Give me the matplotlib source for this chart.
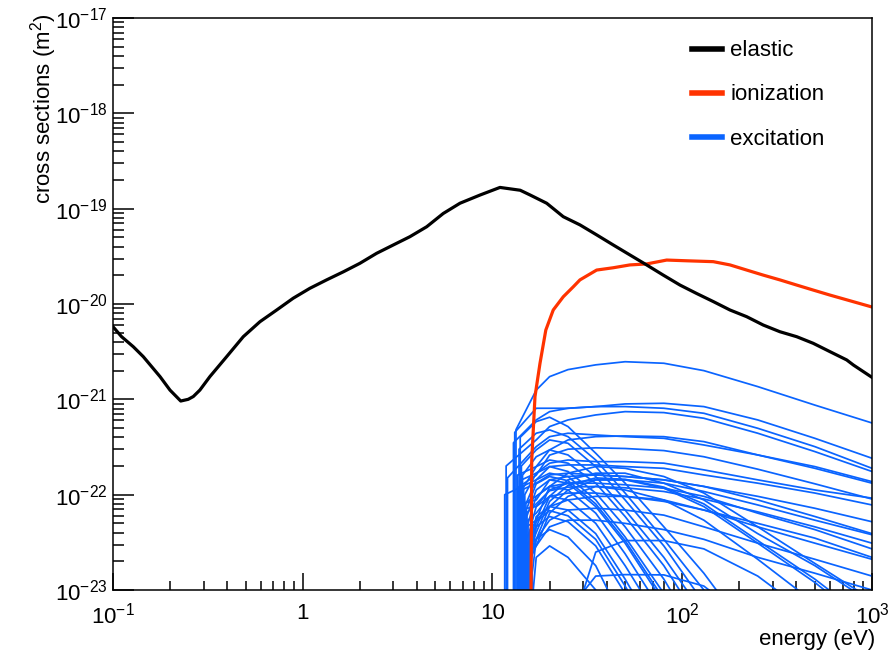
import numpy as np
import matplotlib
matplotlib.use('Agg')
import matplotlib.pyplot as plt
from matplotlib.ticker import FixedLocator, FixedFormatter, LogLocator, NullFormatter

plt.rcParams['font.family'] = ['Liberation Sans', 'DejaVu Sans']
plt.rcParams['mathtext.fontset'] = 'custom'
plt.rcParams['mathtext.rm'] = 'Liberation Sans'
plt.rcParams['mathtext.it'] = 'Liberation Sans:italic'
plt.rcParams['mathtext.bf'] = 'Liberation Sans:bold'

# elastic cross section (energy in eV, sigma in 1e-21 m2)
el_energy = [0.1, 0.111, 0.128, 0.1445, 0.177, 0.1997, 0.2275, 0.249, 0.265, 0.287, 0.324,
             0.397, 0.486, 0.595, 0.729, 0.891, 1.09, 1.336, 1.64, 2.0, 2.45, 3.0, 3.67,
             4.5, 5.5, 6.74, 8.6, 10.95, 14.0, 15.8, 19.3, 23.6, 28.9, 35.4, 43.3, 53,
             64.9, 79.4, 97.3, 119, 145.8, 178.5, 218.6, 267, 327, 401, 490, 601, 735.6,
             798, 1000]
el_sigma = [5.78, 4.54, 3.56, 2.80, 1.73, 1.25, 0.96, 1.0, 1.07, 1.25, 1.73,
            2.80, 4.54, 6.52, 8.65, 11.5, 14.6, 17.9, 21.8, 26.7, 34.0, 41.6, 50.8,
            64.6, 89.0, 114, 139, 167, 156, 139, 114, 82.4, 67.6, 53.1, 41.6, 32.7,
            25.7, 20.1, 15.8, 12.9, 10.6, 8.65, 7.36, 6.02, 5.12, 4.54, 3.87, 3.16, 2.59,
            2.29, 1.70]

# ionization (energy in eV, sigma in 1e-21 m2)
ion_energy = [15.76, 16.1, 16.75, 17.8, 19.1, 20.9, 23.6, 26.7, 28.9, 35.4, 43.3, 53, 64.9,
              82.8, 105.4, 145.8, 178.5, 218.6, 267, 327, 401, 490, 601, 1000]
ion_sigma = [1e-4, 0.23, 1.07, 2.39, 5.33, 8.65, 11.9, 15.2, 17.9, 22.7, 24.0, 25.7, 26.3,
             28.9, 28.4, 27.8, 25.7, 22.7, 20.1, 17.9, 15.8, 14.0, 12.4, 9.3]

# excitation levels: threshold (eV), value just above threshold and values on a common grid (1e-22 m2)
exc_energy = [17, 20, 25, 35, 50, 80, 130, 250, 500, 1000]

allowed_thr = [13.3, 13.1, 12.9, 11.8, 12.0, 13.5, 13.9, 11.6, 14.0, 14.3, 14.1, 14.7, 14.9,
               15.0, 15.2, 14.5, 14.6, 13.7]
allowed_onset = [4.8, 4.5, 3.5, 2.0, 1.5, 1.6, 1.4, 1.0, 1.1, 0.8, 0.7, 0.5, 0.45, 0.3, 0.25,
                 0.8, 0.6, 1.2]
allowed_vals = [
    [12.5, 17.3, 20.5, 23.0, 24.8, 23.9, 20.0, 13.6, 8.7, 5.65],
    [8.06, 8.06, 8.06, 8.39, 8.95, 9.09, 8.39, 6.08, 3.90, 2.41],
    [6.08, 7.43, 8.06, 8.39, 8.39, 8.06, 7.14, 4.97, 3.19, 1.89],
    [3.75, 5.18, 6.08, 6.86, 7.43, 7.26, 6.33, 4.41, 2.83, 1.75],
    [3.19, 4.06, 4.41, 4.23, 4.06, 3.90, 3.32, 2.61, 1.89, 1.32],
    [1.97, 2.95, 3.75, 4.06, 4.13, 4.06, 3.60, 2.61, 1.97, 1.37],
    [1.68, 2.14, 2.31, 2.22, 2.22, 2.14, 1.82, 1.43, 1.12, 0.92],
    [1.43, 1.97, 2.05, 2.05, 1.97, 1.89, 1.61, 1.32, 1.04, 0.78],
    [1.32, 1.61, 1.68, 1.61, 1.55, 1.43, 1.22, 0.96, 0.72, 0.52],
    [0.88, 1.43, 1.55, 1.61, 1.55, 1.43, 1.22, 0.88, 0.59, 0.39],
    [0.75, 1.12, 1.32, 1.43, 1.43, 1.32, 1.08, 0.78, 0.54, 0.38],
    [0.64, 0.96, 1.04, 1.04, 0.96, 0.85, 0.69, 0.50, 0.35, 0.22],
    [0.54, 0.75, 0.88, 0.96, 0.96, 0.88, 0.69, 0.46, 0.31, 0.21],
    [0.34, 0.54, 0.69, 0.72, 0.69, 0.61, 0.46, 0.31, 0.21, 0.14],
    [0.29, 0.46, 0.54, 0.54, 0.50, 0.43, 0.34, 0.22, 0.15, 0.10],
    [0.96, 1.22, 1.32, 1.32, 1.27, 1.17, 0.96, 0.64, 0.43, 0.27],
    [0.80, 1.10, 1.20, 1.22, 1.18, 1.08, 0.90, 0.66, 0.46, 0.31],
    [1.60, 2.60, 3.00, 3.10, 3.05, 2.90, 2.50, 1.85, 1.30, 0.90],
]

mixed_thr = [15.3, 15.1, 15.5, 15.6, 15.4]
mixed_onset = [0.3, 0.35, 0.2, 0.2, 0.25]
mixed_vals = [
    [0.46, 0.96, 1.43, 1.68, 1.68, 1.32, 0.88, 0.39, 0.18, 0.073],
    [0.54, 1.22, 1.68, 1.97, 1.89, 1.55, 1.04, 0.46, 0.19, 0.079],
    [0.34, 0.75, 1.12, 1.43, 1.43, 1.17, 0.75, 0.31, 0.12, 0.04],
    [0.29, 0.64, 0.96, 1.22, 1.12, 0.88, 0.54, 0.21, 0.073, 0.025],
    [0.40, 0.85, 1.25, 1.50, 1.45, 1.20, 0.80, 0.33, 0.13, 0.045],
]

forbid_thr = [14.0, 13.8, 14.2, 14.4, 14.6, 14.8, 15.0, 15.2, 15.4, 15.6, 15.8, 16.0, 16.2,
              16.4, 16.5, 16.5, 15.1, 15.9]
forbid_onset = [4.0, 3.0, 2.0, 1.6, 1.2, 1.0, 0.8, 0.6, 0.5, 0.4, 0.3, 0.2, 0.15, 0.1,
                0.0005, 0.0005, 0.7, 0.25]
forbid_vals = [
    [5.84, 6.49, 5.18, 2.72, 1.32, 0.46, 0.15, 0.026, 0.005, 0.001],
    [4.41, 4.78, 4.06, 2.31, 1.04, 0.34, 0.10, 0.017, 0.003, 0.0005],
    [2.95, 3.75, 3.46, 1.97, 0.88, 0.29, 0.073, 0.01, 0.002, 0.0003],
    [2.50, 2.95, 2.61, 1.55, 0.69, 0.22, 0.055, 0.008, 0.001, 0.0002],
    [1.97, 2.31, 2.14, 1.32, 0.59, 0.18, 0.04, 0.005, 0.001, 0.0001],
    [1.68, 1.97, 1.75, 1.04, 0.46, 0.13, 0.026, 0.003, 0.0005, 0.0001],
    [1.43, 1.68, 1.55, 0.88, 0.36, 0.092, 0.02, 0.002, 0.0003, 0.0001],
    [1.12, 1.43, 1.32, 0.75, 0.31, 0.073, 0.015, 0.002, 0.0003, 0.0001],
    [0.96, 1.22, 1.12, 0.64, 0.24, 0.055, 0.01, 0.001, 0.0002, 0.0001],
    [0.75, 0.96, 0.88, 0.50, 0.18, 0.04, 0.007, 0.001, 0.0002, 0.0001],
    [0.59, 0.75, 0.69, 0.39, 0.13, 0.026, 0.004, 0.0005, 0.0001, 0.0001],
    [0.46, 0.59, 0.52, 0.29, 0.092, 0.02, 0.003, 0.0005, 0.0001, 0.0001],
    [0.34, 0.43, 0.36, 0.18, 0.043, 0.008, 0.001, 0.0002, 0.0001, 0.0001],
    [0.22, 0.29, 0.22, 0.10, 0.026, 0.004, 0.0005, 0.0001, 0.0001, 0.0001],
    [0.001, 0.01, 0.06, 0.14, 0.145, 0.144, 0.11, 0.04, 0.008, 0.001],
    [0.001, 0.005, 0.03, 0.25, 0.33, 0.33, 0.27, 0.14, 0.05, 0.015],
    [1.30, 1.55, 1.40, 0.80, 0.33, 0.08, 0.017, 0.002, 0.0003, 0.0001],
    [0.52, 0.68, 0.60, 0.34, 0.11, 0.022, 0.0035, 0.0005, 0.0001, 0.0001],
]

# axis ticks
x_ticks = [0.1, 1, 10, 100, 1000]
x_tick_labels = ['$10^{-1}$', '1', '10', '$10^{2}$', '$10^{3}$']
y_ticks = [1e-23, 1e-22, 1e-21, 1e-20, 1e-19, 1e-18, 1e-17]

blue = '#0a64ff'
red = '#ff3300'

fig = plt.figure(figsize=(8.96, 6.59), dpi=100)
ax = fig.add_axes([0.1261, 0.1047, 0.8471, 0.868])

# excitation curves
exc_thr = allowed_thr + mixed_thr + forbid_thr
exc_onset = allowed_onset + mixed_onset + forbid_onset
exc_vals = allowed_vals + mixed_vals + forbid_vals
for thr, onset, vals in zip(exc_thr, exc_onset, exc_vals):
    x = [thr, thr] + exc_energy
    y = np.array([1e-4, onset] + vals) * 1e-22
    h_exc, = ax.plot(x, y, color=blue, lw=1.25)

h_ion, = ax.plot(ion_energy, np.array(ion_sigma) * 1e-21, color=red, lw=2.3)
h_el, = ax.plot(el_energy, np.array(el_sigma) * 1e-21, color='black', lw=2.3)

ax.set_xscale('log')
ax.set_yscale('log')
ax.set_xlim(0.1, 1000)
ax.set_ylim(1e-23, 1e-17)

ax.xaxis.set_major_locator(FixedLocator(x_ticks))
ax.xaxis.set_major_formatter(FixedFormatter(x_tick_labels))
ax.xaxis.set_minor_locator(LogLocator(base=10, subs=np.arange(2, 10), numticks=20))
ax.xaxis.set_minor_formatter(NullFormatter())
ax.yaxis.set_major_locator(FixedLocator(y_ticks))
ax.yaxis.set_minor_locator(LogLocator(base=10, subs=np.arange(2, 10), numticks=20))
ax.yaxis.set_minor_formatter(NullFormatter())

ax.tick_params(which='both', direction='in', top=False, right=False, width=1.1, labelsize=16)
ax.tick_params(axis='y', which='major', length=15, pad=4)
ax.tick_params(axis='y', which='minor', length=8)
ax.tick_params(axis='x', which='major', length=12, pad=9)
ax.tick_params(axis='x', which='minor', length=6.5)
for s in ax.spines.values():
    s.set_linewidth(1.1)

fig.text(875 / 896, 1 - 639 / 659, 'energy (eV)', ha='right', va='center', fontsize=16)
fig.text(44 / 896, 1 - 13 / 659, 'cross sections (m$^{2}$)', ha='center', va='top',
         rotation=90, fontsize=16)

leg = ax.legend([h_el, h_ion, h_exc], ['elastic', 'ionization', 'excitation'],
                loc='upper left', bbox_to_anchor=(0.763, 0.961), frameon=False, fontsize=16,
                handlelength=1.35, handletextpad=0.36, labelspacing=1.04,
                borderpad=0, borderaxespad=0)
for line in leg.get_lines():
    line.set_linewidth(4)

fig.savefig('out.png', dpi=100)
